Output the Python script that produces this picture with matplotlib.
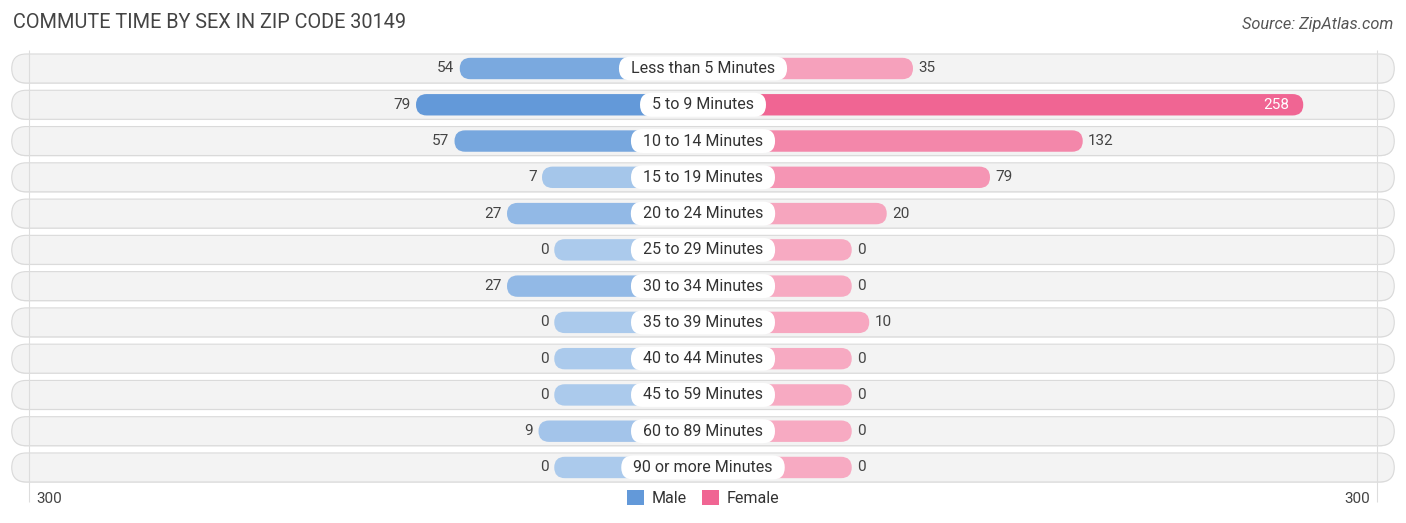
import matplotlib
matplotlib.use('Agg')
import matplotlib.pyplot as plt
from matplotlib.patches import FancyBboxPatch, Patch
import numpy as np

plt.rcParams['font.family'] = ['Roboto', 'DejaVu Sans']

categories = ['Less than 5 Minutes', '5 to 9 Minutes', '10 to 14 Minutes',
              '15 to 19 Minutes', '20 to 24 Minutes', '25 to 29 Minutes',
              '30 to 34 Minutes', '35 to 39 Minutes', '40 to 44 Minutes',
              '45 to 59 Minutes', '60 to 89 Minutes', '90 or more Minutes']
male = [54, 79, 57, 7, 27, 0, 27, 0, 0, 0, 9, 0]
female = [35, 258, 132, 79, 20, 0, 0, 10, 0, 0, 0, 0]
axis_max = 300

title = 'COMMUTE TIME BY SEX IN ZIP CODE 30149'
source = 'Source: ZipAtlas.com'

# layout (pixels of a 1406x523 canvas)
W, H = 1406, 523
PX_X = 1.75          # pixels per value unit
PX_Y = 36.27         # pixels per row
OFFSET = 85          # half-width reserved for the centre label, value units
ROW0 = 68.5          # y pixel of first row centre
ASPECT = PX_X / PX_Y

male_dark, male_light = np.array([0x63, 0x99, 0xd9]) / 255, np.array([0xab, 0xca, 0xec]) / 255
fem_dark, fem_light = np.array([0xf0, 0x65, 0x93]) / 255, np.array([0xf7, 0xaa, 0xc2]) / 255


def shade(v, vmax, light, dark):
    t = v / vmax if vmax else 0
    return tuple(light + (dark - light) * t)


def pill(ax, x0, x1, y, h, fc, ec='none', lw=0, z=2):
    r = h / 2 / ASPECT
    box = FancyBboxPatch((x0, y - h / 2), x1 - x0, h,
                         boxstyle=f'round,pad=0,rounding_size={r}',
                         mutation_aspect=ASPECT, fc=fc, ec=ec, lw=lw, zorder=z)
    ax.add_patch(box)
    return box


fig = plt.figure(figsize=(W / 100, H / 100), dpi=100)
ax = fig.add_axes([0, 0, 1, 1])
ax.set_xlim(-W / 2 / PX_X, W / 2 / PX_X)
ax.set_ylim((H - ROW0) / PX_Y, -ROW0 / PX_Y)
ax.axis('off')

grid_x = OFFSET + axis_max
ax.vlines([-grid_x, grid_x], -0.5, len(categories) - 0.05,
          color='#dddddd', lw=0.8, zorder=1.5)

renderer = fig.canvas.get_renderer()
mmax, fmax = max(male), max(female)
for i, cat in enumerate(categories):
    # row background
    pill(ax, -395, 395, i + 0.02, 0.8, '#e6e6e6', z=0.9)
    pill(ax, -395, 395, i, 0.8, '#f3f3f3', ec='#dadada', lw=0.8, z=1)

    m, f = male[i], female[i]
    pill(ax, -(OFFSET + m), 0, i, 0.59, shade(m, mmax, male_light, male_dark), z=2)
    pill(ax, 0, OFFSET + f, i, 0.59, shade(f, fmax, fem_light, fem_dark), z=2)

    ax.text(-(OFFSET + m) - 3, i, str(m), ha='right', va='center',
            fontsize=11, color='#444444', zorder=5)
    if f > 200:
        ax.text(OFFSET + f - 8, i, str(f), ha='right', va='center',
                fontsize=11, color='white', zorder=5)
    else:
        ax.text(OFFSET + f + 3, i, str(f), ha='left', va='center',
                fontsize=11, color='#444444', zorder=5)

    t = ax.text(0, i, cat, ha='center', va='center', fontsize=11.5,
                color='#333333', zorder=6)
    bb = t.get_window_extent(renderer)
    half = (bb.width / 2 + 12) / PX_X
    pill(ax, -half, half, i, 0.66, 'white', z=4)

ax.text(-381, 11.86, str(axis_max), ha='left', va='center', fontsize=11, color='#444444')
ax.text(381, 11.86, str(axis_max), ha='right', va='center', fontsize=11, color='#444444')

handles = [Patch(fc=tuple(male_dark), ec='none', label='Male'),
           Patch(fc=tuple(fem_dark), ec='none', label='Female')]
fig.legend(handles=handles, loc='center', bbox_to_anchor=(0.5, 1 - 498 / H),
           ncol=2, frameon=False, fontsize=11.5, handlelength=1.05, handleheight=1.05,
           columnspacing=1.0, handletextpad=0.45, labelcolor='#333333')

fig.text(13 / W, 1 - 22 / H, title, ha='left', va='center', fontsize=14.3, color='#444444')
fig.text(1393 / W, 1 - 25 / H, source, ha='right', va='center', fontsize=11.8,
         color='#555555', style='italic')

fig.savefig('out.png', dpi=100)
